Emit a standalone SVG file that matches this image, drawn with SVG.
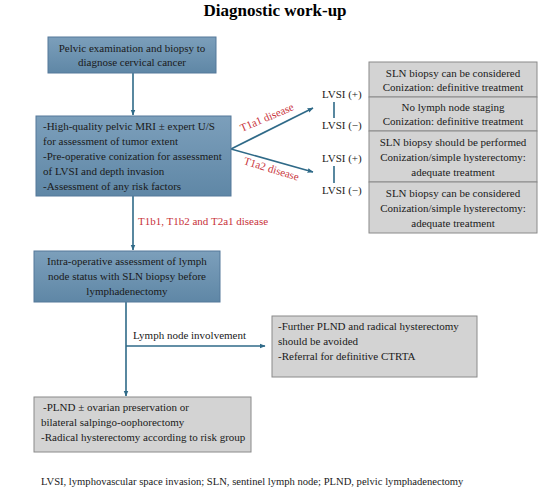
<svg xmlns="http://www.w3.org/2000/svg" width="550" height="504" viewBox="0 0 550 504">
<defs>
<linearGradient id="blue" x1="0" y1="0" x2="0" y2="1">
<stop offset="0" stop-color="#7c9fbb"/>
<stop offset="1" stop-color="#5f87a6"/>
</linearGradient>
<marker id="arr" viewBox="0 0 10 10" refX="9" refY="5" markerWidth="6" markerHeight="6" orient="auto" markerUnits="userSpaceOnUse">
<path d="M0,1 L10,5 L0,9 z" fill="#2f6a88"/>
</marker>
<style>
text{font-family:"Liberation Serif","Times New Roman",serif;font-size:11px;fill:#1a1a1a}
.title{font-size:17px;font-weight:bold;fill:#000}
.blue{fill:url(#blue);stroke:#55789a;stroke-width:1}
.grey{fill:#d3d3d3;stroke:#8a8a8a;stroke-width:1}
.c{text-anchor:middle}
.red{fill:#c8323a}
.con{stroke:#2f6a88;stroke-width:1.6;fill:none}
.foot{font-size:10.6px}
</style>
</defs>
<rect width="550" height="504" fill="#fff"/>
<text class="title c" x="275" y="16">Diagnostic work-up</text>

<g id="connectors">
<line class="con" x1="133" y1="73" x2="133" y2="115" marker-end="url(#arr)"/>
<line class="con" x1="231" y1="149" x2="313" y2="108" marker-end="url(#arr)"/>
<line class="con" x1="231" y1="149" x2="313" y2="172" marker-end="url(#arr)"/>
<line class="con" x1="133" y1="196" x2="133" y2="250" marker-end="url(#arr)"/>
<line class="con" x1="126" y1="302" x2="126" y2="396" marker-end="url(#arr)"/>
<line class="con" x1="126" y1="346" x2="265" y2="346" marker-end="url(#arr)"/>
<line class="con" x1="334" y1="102" x2="334" y2="118"/>
<line class="con" x1="334" y1="166" x2="334" y2="183"/>
<text class="red" transform="translate(242,132) rotate(-23)">T1a1 disease</text>
<text class="red" transform="translate(243,164) rotate(17)">T1a2 disease</text>
<text class="red" x="138" y="225">T1b1, T1b2 and T2a1 disease</text>
<text x="133" y="339">Lymph node involvement</text>
<text x="322" y="98">LVSI (+)</text>
<text x="322" y="129">LVSI (−)</text>
<text x="322" y="162">LVSI (+)</text>
<text x="322" y="194">LVSI (−)</text>
</g>

<g id="n1">
<rect class="blue" x="48" y="37" width="168" height="36"/>
<text class="c" x="132" y="52">Pelvic examination and biopsy to</text>
<text class="c" x="132" y="66">diagnose cervical cancer</text>
</g>

<g id="n2">
<rect class="blue" x="36" y="116" width="195" height="80"/>
<text x="43" y="130">-High-quality pelvic MRI ± expert U/S</text>
<text x="43" y="145">for assessment of tumor extent</text>
<text x="43" y="160">-Pre-operative conization for assessment</text>
<text x="43" y="175">of LVSI and depth invasion</text>
<text x="43" y="190">-Assessment of any risk factors</text>
</g>

<g id="n3">
<rect class="grey" x="369" y="62" width="168" height="35"/>
<text class="c" x="453" y="77">SLN biopsy can be considered</text>
<text class="c" x="453" y="91">Conization: definitive treatment</text>
</g>

<g id="n4">
<rect class="grey" x="369" y="97" width="168" height="34"/>
<text class="c" x="453" y="111">No lymph node staging</text>
<text class="c" x="453" y="125">Conization: definitive treatment</text>
</g>

<g id="n5">
<rect class="grey" x="369" y="131" width="168" height="51"/>
<text class="c" x="453" y="146">SLN biopsy should be performed</text>
<text class="c" x="453" y="161">Conization/simple hysterectomy:</text>
<text class="c" x="453" y="176">adequate treatment</text>
</g>

<g id="n6">
<rect class="grey" x="369" y="182" width="168" height="51"/>
<text class="c" x="453" y="197">SLN biopsy can be considered</text>
<text class="c" x="453" y="212">Conization/simple hysterectomy:</text>
<text class="c" x="453" y="227">adequate treatment</text>
</g>

<g id="n7">
<rect class="blue" x="34" y="251" width="186" height="51"/>
<text class="c" x="127" y="265">Intra-operative assessment of lymph</text>
<text class="c" x="127" y="280">node status with SLN biopsy before</text>
<text class="c" x="127" y="295">lymphadenectomy</text>
</g>

<g id="n8">
<rect class="grey" x="272" y="316" width="205" height="61"/>
<text x="278" y="330">-Further PLND and radical hysterectomy</text>
<text x="278" y="345">should be avoided</text>
<text x="278" y="360">-Referral for definitive CTRTA</text>
</g>

<g id="n9">
<rect class="grey" x="34" y="397" width="217" height="55"/>
<text x="43" y="411">-PLND ± ovarian preservation or</text>
<text x="41" y="426">bilateral salpingo-oophorectomy</text>
<text x="41" y="441">-Radical hysterectomy according to risk group</text>
</g>

<text class="foot" x="41" y="485">LVSI, lymphovascular space invasion; SLN, sentinel lymph node; PLND, pelvic lymphadenectomy</text>
</svg>
